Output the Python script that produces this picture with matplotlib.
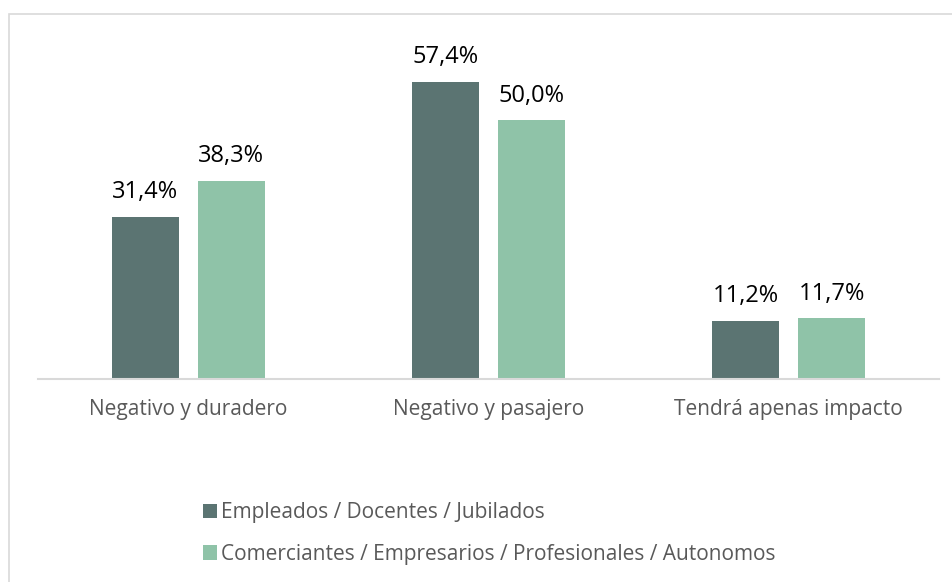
import numpy as np
import matplotlib.pyplot as plt
from matplotlib.patches import Rectangle

categorias = ["Negativo y duradero", "Negativo y pasajero", "Tendrá apenas impacto"]
empleados = [31.4, 57.4, 11.2]
comerciantes = [38.3, 50.0, 11.7]
series = ["Empleados / Docentes / Jubilados",
          "Comerciantes / Empresarios / Profesionales / Autonomos"]
colores = ["#5B7472", "#8FC3A8"]

plt.rcParams['font.family'] = ['Open Sans', 'DejaVu Sans']

W, H = 953, 582
fig = plt.figure(figsize=(W / 100, H / 100), dpi=100)
ax = fig.add_axes([38 / W, (H - 379) / H, 901 / W, (379 - 17) / H])

x = np.arange(len(categorias))
ancho = 0.223
off = 0.143
b1 = ax.bar(x - off, empleados, ancho, color=colores[0], label=series[0])
b2 = ax.bar(x + off, comerciantes, ancho, color=colores[1], label=series[1])

for barras, vals in [(b1, empleados), (b2, comerciantes)]:
    for b, v in zip(barras, vals):
        ax.annotate(f"{v:.1f}%".replace(".", ","),
                    (b.get_x() + b.get_width() / 2, v),
                    xytext=(0, 13.5), textcoords="offset points",
                    ha="center", va="baseline", fontsize=17, color="black")

ax.set_xlim(-0.5, 2.5)
ax.set_ylim(0, 70)
ax.set_xticks(x)
ax.set_xticklabels(categorias, fontsize=15, color="#595959")
ax.tick_params(axis="x", length=0, pad=14.5)
ax.set_yticks([])
for s in ["top", "right", "left"]:
    ax.spines[s].set_visible(False)
ax.spines["bottom"].set_color("#D9D9D9")
ax.spines["bottom"].set_linewidth(1.5)

leg = fig.legend(loc="upper left", bbox_to_anchor=(203 / W, 1 - 502 / H),
                 frameon=False, fontsize=15, handlelength=0.67, handleheight=0.67,
                 handletextpad=0.2, labelspacing=1.0, borderpad=0, borderaxespad=0)
for t in leg.get_texts():
    t.set_color("#595959")

# borde del gráfico
fig.patches.append(Rectangle((9 / W, -0.05), 1.2, 1.05 - 13.5 / H, transform=fig.transFigure,
                             fill=False, edgecolor="#D9D9D9", linewidth=1.2))

fig.savefig("out.png", dpi=100)
